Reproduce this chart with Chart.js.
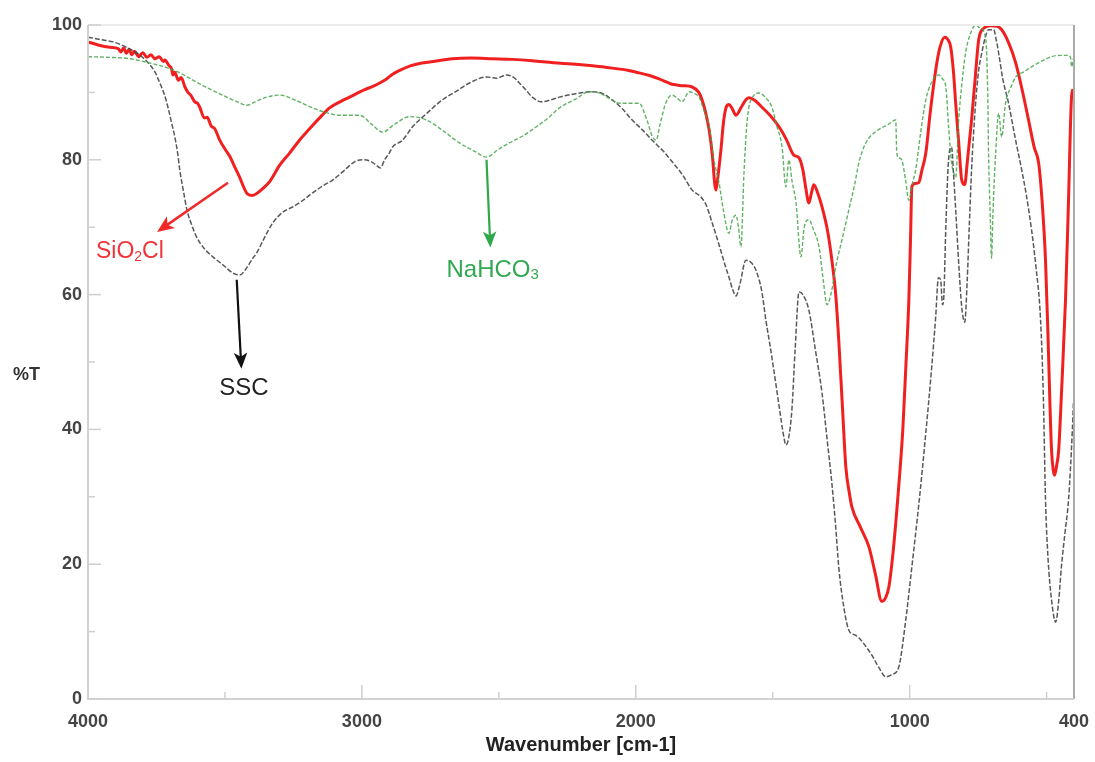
<!DOCTYPE html>
<html>
<head>
<meta charset="utf-8">
<title>FTIR spectra</title>
<script src="https://cdn.jsdelivr.net/npm/chart.js@4.4.0/dist/chart.umd.min.js"></script>
<style>
  html, body { margin: 0; padding: 0; background: #fff; }
  #wrap { width: 1095px; height: 762px; }
</style>
</head>
<body>
<div id="wrap"><canvas id="ftir" width="1095" height="762"></canvas></div>
<script>
// --- data (wavenumber cm-1 / %T) ---
const sio2Wave = [4000,3960,3920,3890,3880,3870,3860,3850,3840,3830,3815,3800,3785,3770,3756,3740,3725,3719,3705,3695,3690,3683,3670,3660,3646,3635,3625,3610,3600,3592,3575,3565,3550,3537,3520,3500,3482,3465,3446,3430,3417,3400,3388,3360,3336,3300,3264,3230,3191,3150,3118,3080,3045,2990,2960,2935,2910,2888,2860,2826,2790,2753,2669,2600,2524,2450,2378,2300,2232,2150,2086,2030,1988,1950,1915,1880,1867,1830,1794,1770,1758,1745,1732,1720,1712,1707,1700,1689,1680,1670,1660,1648,1634,1615,1600,1587,1565,1539,1510,1477,1450,1423,1404,1390,1380,1368,1358,1350,1335,1320,1300,1284,1270,1259,1245,1233,1220,1211,1180,1149,1125,1102,1088,1076,1060,1040,1025,1014,1003,997,992,980,967,955,941,925,905,890,872,860,850,840,832,820,810,799,790,774,760,748,730,704,680,664,640,613,590,566,545,529,515,504,495,488,482,476,471,464,456,445,431,420,409,403];
const sio2T    = [97.5,97.0,96.7,96.5,96.0,96.6,95.8,96.4,95.6,96.1,95.3,95.9,95.2,95.6,95.0,95.3,94.6,94.8,94.0,93.5,92.6,93.0,91.8,92.2,90.8,90.0,89.6,88.6,88.4,87.8,86.2,86.3,85.0,84.6,83.0,81.6,80.5,79.0,77.4,75.8,74.9,74.7,74.9,75.8,76.8,79.2,81.0,82.8,84.6,86.4,87.7,88.6,89.3,90.4,90.9,91.4,92.0,92.7,93.3,93.9,94.3,94.5,95.0,95.1,95.0,94.9,94.7,94.4,94.2,93.9,93.6,93.3,92.9,92.5,92.0,91.4,91.2,91.0,90.8,90.0,88.9,87.0,84.4,80.5,76.5,75.5,77.5,81.5,85.5,87.8,88.2,87.6,86.6,87.8,88.8,89.2,88.8,87.8,86.6,84.9,83.0,80.7,80.3,78.5,76.0,73.6,75.2,76.3,75.0,73.0,69.5,65.1,60.0,53.3,43.0,34.4,30.5,28.5,25.5,22.6,18.5,14.5,15.0,16.6,22.0,31.5,40.0,49.3,59.2,68.0,76.0,76.5,76.6,78.5,81.0,87.0,93.3,96.6,98.2,97.8,96.7,93.0,88.4,82.0,77.0,76.3,79.5,85.9,92.5,97.8,99.5,99.9,99.8,99.3,97.5,94.4,90.5,85.9,81.8,79.5,73.0,65.1,54.0,44.0,36.9,34.0,33.2,34.5,36.9,46.0,59.2,74.0,89.3,90.5];

const sscWave = [4000,3950,3909,3860,3810,3774,3755,3738,3722,3708,3695,3683,3672,3665,3650,3639,3620,3603,3575,3544,3510,3471,3446,3420,3400,3384,3355,3326,3290,3253,3215,3180,3140,3107,3065,3027,2997,2970,2954,2932,2917,2900,2888,2852,2815,2760,2706,2650,2607,2545,2509,2472,2445,2425,2400,2378,2345,2310,2279,2220,2159,2120,2086,2050,2013,1975,1940,1900,1867,1830,1794,1765,1743,1720,1696,1675,1660,1645,1634,1620,1598,1580,1561,1540,1525,1510,1496,1475,1460,1452,1443,1430,1418,1404,1390,1368,1345,1320,1300,1284,1270,1259,1240,1222,1200,1186,1160,1138,1110,1087,1065,1040,1015,992,965,941,920,905,895,887,880,876,868,858,847,840,832,820,810,799,790,782,774,760,748,737,725,712,693,685,675,660,639,615,591,575,555,540,522,512,504,495,482,467,456,446,432,420,406,402];
const sscT    = [98.2,97.8,97.5,96.7,95.5,94.1,93.0,91.4,89.8,87.8,85.5,83.4,80.8,78.5,75.0,72.6,70.2,68.5,66.8,65.6,64.5,63.2,62.9,64.0,65.3,66.2,68.5,70.6,72.2,73.0,74.0,75.1,76.2,77.0,78.4,79.7,80.0,79.8,79.4,78.8,80.0,81.0,81.9,82.9,84.9,87.0,88.9,90.3,91.4,92.3,92.1,92.6,92.2,91.4,90.3,89.3,88.6,88.9,89.3,89.8,90.1,89.8,88.9,87.6,85.9,84.4,82.9,81.3,79.7,77.8,75.5,74.6,73.3,70.5,67.4,64.5,62.6,60.6,59.8,61.5,65.1,64.8,63.6,60.5,56.2,52.5,48.8,43.0,39.0,37.7,38.5,42.9,52.0,60.4,60.0,57.7,52.0,45.4,38.0,32.0,25.5,19.6,13.5,10.2,9.5,9.1,7.8,6.5,4.5,3.3,3.6,4.7,11.5,19.6,29.5,39.5,49.0,56.7,62.5,62.2,58.5,59.2,70.0,80.0,81.9,78.0,72.6,64.0,58.2,55.9,62.0,70.5,78.5,88.0,93.3,95.8,98.0,99.3,99.3,98.0,95.8,92.0,88.4,83.3,78.5,75.0,69.6,64.5,56.2,45.0,29.5,21.0,14.7,11.4,14.5,19.6,25.0,29.5,39.9,44.0];

const nahWave = [4000,3920,3847,3800,3748,3700,3665,3620,3566,3530,3493,3455,3420,3390,3347,3300,3240,3180,3130,3081,3040,3008,2965,2925,2880,2826,2764,2700,2644,2590,2545,2500,2462,2410,2363,2320,2279,2220,2170,2133,2100,2061,2020,1988,1960,1940,1926,1910,1890,1867,1850,1831,1805,1785,1769,1750,1732,1715,1696,1680,1660,1648,1634,1625,1616,1605,1595,1587,1570,1550,1525,1503,1485,1466,1452,1441,1430,1415,1397,1385,1368,1350,1331,1315,1302,1285,1270,1245,1222,1200,1186,1160,1120,1080,1051,1047,1040,1029,1015,1003,990,978,960,941,920,894,880,868,858,847,840,832,821,810,796,780,759,745,723,715,712,706,701,696,686,675,664,650,630,613,585,555,520,482,450,420,412,409,402];
const nahT    = [95.3,95.2,95.0,94.6,94.1,93.5,92.9,91.9,90.7,90.0,89.3,88.6,88.1,88.6,89.3,89.6,88.8,87.7,87.0,86.6,86.6,86.6,85.3,84.1,85.3,86.4,85.9,84.2,82.5,81.3,80.4,81.6,82.5,83.6,84.9,86.2,87.7,89.0,90.1,89.9,89.2,88.4,88.4,88.4,86.0,83.5,82.9,85.5,88.5,89.6,89.2,88.6,90.1,89.8,89.3,87.2,84.9,80.0,76.6,72.5,69.1,71.0,71.8,70.0,67.1,78.0,85.0,87.8,89.5,89.9,89.2,87.8,85.0,81.9,76.0,80.0,77.0,73.6,65.6,70.0,71.1,69.5,67.1,62.0,58.5,60.5,64.1,68.5,72.6,76.5,79.5,82.5,84.3,85.2,85.9,81.0,80.3,80.0,77.0,74.0,76.5,78.5,84.0,88.9,91.5,92.6,92.0,90.8,85.0,79.5,78.2,77.4,85.9,91.0,95.8,98.5,100,99.6,98.2,90.0,81.0,72.0,65.4,72.0,81.0,86.9,83.4,88.4,90.8,92.3,93.0,93.8,94.6,95.3,95.5,95.5,95.0,93.8,95.0];

const xTickValues = [4000, 3500, 3000, 2500, 2000, 1500, 1000, 500, 400];
const xTickLabels = ['4000', '', '3000', '', '2000', '', '1000', '', '400'];
const yTickValues = [0, 10, 20, 30, 40, 50, 60, 70, 80, 90, 100];
const yLabelled = [0, 20, 40, 60, 80, 100];

const toPoints = (xs, ys) => xs.map((x, i) => ({ x: x, y: ys[i] }));

const FONT = "'Liberation Sans', Arial, Helvetica, sans-serif";

// draws inward ticks, frame, the %T label and the arrows with their names
const decorations = {
  id: 'decorations',
  afterDatasetsDraw(chart) {
    const { ctx, chartArea: a, scales: { x, y } } = chart;
    ctx.save();

    // frame
    ctx.lineWidth = 2;
    ctx.strokeStyle = '#ececec';
    ctx.beginPath(); ctx.moveTo(a.left, a.top); ctx.lineTo(a.right, a.top); ctx.stroke();
    ctx.strokeStyle = '#aaaaaa';
    ctx.beginPath(); ctx.moveTo(a.right, a.top); ctx.lineTo(a.right, a.bottom); ctx.stroke();
    ctx.strokeStyle = '#d2d2d2';
    ctx.beginPath(); ctx.moveTo(a.left, a.top); ctx.lineTo(a.left, a.bottom); ctx.lineTo(a.right, a.bottom); ctx.stroke();

    // inward ticks
    ctx.lineWidth = 1.5;
    ctx.strokeStyle = '#cfcfcf';
    yTickValues.forEach(v => {
      const py = y.getPixelForValue(v);
      const len = yLabelled.includes(v) ? 13 : 7;
      ctx.beginPath(); ctx.moveTo(a.left, py); ctx.lineTo(a.left + len, py); ctx.stroke();
    });
    xTickValues.forEach((v, i) => {
      if (v === 4000 || v === 400) return;
      const px = x.getPixelForValue(v);
      const len = xTickLabels[i] ? 14 : 7;
      ctx.beginPath(); ctx.moveTo(px, a.bottom); ctx.lineTo(px, a.bottom - len); ctx.stroke();
    });

    // y axis name, horizontal
    ctx.fillStyle = '#333';
    ctx.font = 'bold 18px ' + FONT;
    ctx.textAlign = 'left';
    ctx.textBaseline = 'middle';
    ctx.fillText('%T', 13, 375);

    const arrow = (w1, t1, w2, t2, color, width, head) => {
      const x1 = x.getPixelForValue(w1), y1 = y.getPixelForValue(t1);
      const x2 = x.getPixelForValue(w2), y2 = y.getPixelForValue(t2);
      const ang = Math.atan2(y2 - y1, x2 - x1);
      ctx.strokeStyle = color; ctx.fillStyle = color; ctx.lineWidth = width;
      ctx.beginPath();
      ctx.moveTo(x1, y1);
      ctx.lineTo(x2 - Math.cos(ang) * head * 0.7, y2 - Math.sin(ang) * head * 0.7);
      ctx.stroke();
      ctx.beginPath();
      ctx.moveTo(x2, y2);
      ctx.lineTo(x2 - head * Math.cos(ang) + head * 0.42 * Math.sin(ang), y2 - head * Math.sin(ang) - head * 0.42 * Math.cos(ang));
      ctx.lineTo(x2 - head * 0.75 * Math.cos(ang), y2 - head * 0.75 * Math.sin(ang));
      ctx.lineTo(x2 - head * Math.cos(ang) - head * 0.42 * Math.sin(ang), y2 - head * Math.sin(ang) + head * 0.42 * Math.cos(ang));
      ctx.closePath();
      ctx.fill();
    };

    // text with a subscript part: [main, sub, rest]
    const label = (wn, t, parts, color, size, align) => {
      ctx.fillStyle = color;
      ctx.textBaseline = 'middle';
      ctx.textAlign = 'left';
      const subSize = Math.round(size * 0.62);
      const widths = parts.map((p, i) => {
        ctx.font = (i === 1 ? subSize : size) + 'px ' + FONT;
        return ctx.measureText(p).width;
      });
      const total = widths.reduce((s, v) => s + v, 0);
      let px = x.getPixelForValue(wn);
      if (align === 'center') px -= total / 2;
      const py = y.getPixelForValue(t);
      parts.forEach((p, i) => {
        ctx.font = (i === 1 ? subSize : size) + 'px ' + FONT;
        ctx.fillText(p, px, i === 1 ? py + size * 0.2 : py);
        px += widths[i];
      });
    };

    arrow(3489, 76.6, 3748, 69.3, '#f02a2a', 2.5, 17);
    label(3971, 66.3, ['SiO', '2', 'Cl'], '#f0343a', 23, 'left');

    arrow(3457, 62.2, 3440, 49.0, '#111', 2.2, 16);
    label(3431, 46.1, ['SSC', '', ''], '#222', 24, 'center');

    arrow(2545, 80.0, 2531, 67.0, '#2ea84a', 2.2, 16);
    label(2691, 63.6, ['NaHCO', '3', ''], '#33a852', 24, 'left');

    ctx.restore();
  }
};

new Chart(document.getElementById('ftir').getContext('2d'), {
  type: 'scatter',
  data: {
    datasets: [
      {
        label: 'NaHCO3',
        data: toPoints(nahWave, nahT),
        showLine: true,
        borderColor: 'rgba(70,165,75,0.85)',
        borderWidth: 1.4,
        borderDash: [4, 2],
        pointRadius: 0,
        cubicInterpolationMode: 'monotone'
      },
      {
        label: 'SSC',
        data: toPoints(sscWave, sscT),
        showLine: true,
        borderColor: 'rgba(70,70,70,0.9)',
        borderWidth: 1.5,
        borderDash: [5, 2],
        pointRadius: 0,
        cubicInterpolationMode: 'monotone'
      },
      {
        label: 'SiO2Cl',
        data: toPoints(sio2Wave, sio2T),
        showLine: true,
        borderColor: '#f02020',
        borderWidth: 3,
        pointRadius: 0,
        cubicInterpolationMode: 'monotone'
      }
    ]
  },
  options: {
    responsive: false,
    animation: false,
    layout: { padding: { top: 25, right: 21, bottom: 0, left: 0 } },
    plugins: { legend: { display: false }, tooltip: { enabled: false } },
    scales: {
      x: {
        type: 'linear',
        reverse: true,
        min: 400,
        max: 4000,
        afterBuildTicks: s => { s.ticks = xTickValues.map(v => ({ value: v })); },
        afterFit: s => { s.height = 63; s.paddingLeft = 0; s.paddingRight = 0; },
        grid: { display: false, drawTicks: false },
        border: { display: false },
        ticks: {
          autoSkip: false,
          maxRotation: 0,
          padding: 12,
          color: '#444',
          font: { family: FONT, size: 18, weight: 'bold' },
          callback: v => xTickLabels[xTickValues.indexOf(v)]
        },
        title: {
          display: true,
          text: 'Wavenumber [cm-1]',
          color: '#222',
          font: { family: FONT, size: 20, weight: 'bold' },
          padding: { top: 0, bottom: 5 }
        }
      },
      y: {
        min: 0,
        max: 100,
        afterBuildTicks: s => { s.ticks = yLabelled.map(v => ({ value: v })); },
        afterFit: s => { s.width = 88; s.paddingTop = 0; s.paddingBottom = 0; },
        grid: { display: false, drawTicks: false },
        border: { display: false },
        ticks: {
          padding: 6,
          color: '#444',
          font: { family: FONT, size: 18, weight: 'bold' }
        }
      }
    }
  },
  plugins: [decorations]
});
</script>
</body>
</html>
